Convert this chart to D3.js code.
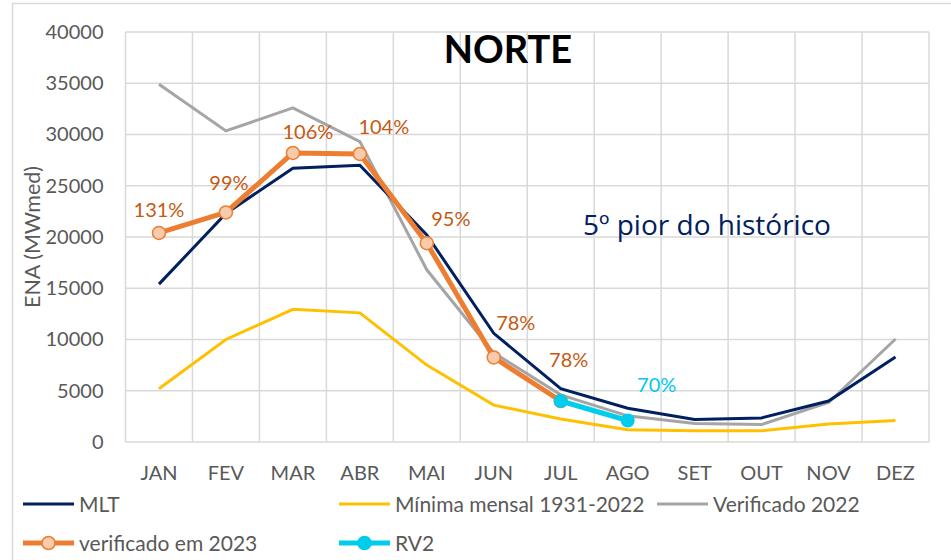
<!doctype html>
<html lang="pt">
<head>
<meta charset="utf-8">
<title>NORTE - ENA</title>
<script src="https://cdn.jsdelivr.net/npm/d3@7/dist/d3.min.js"></script>
<style>
  body { margin: 0; background: #fff; }
  svg text { font-family: Lato, "Open Sans", sans-serif; }
  svg text.nota { font-family: "Open Sans", Lato, sans-serif; }
</style>
</head>
<body>
<svg id="chart" width="951" height="560"></svg>
<script>
// dados (MWmed)
var meses = ["JAN", "FEV", "MAR", "ABR", "MAI", "JUN", "JUL", "AGO", "SET", "OUT", "NOV", "DEZ"];
var mlt = [15400, 22300, 26700, 27000, 20200, 10600, 5200, 3300, 2200, 2350, 4000, 8300];
var minima = [5200, 10000, 12950, 12600, 7500, 3600, 2250, 1200, 1100, 1100, 1750, 2100];
var verif2022 = [34900, 30350, 32600, 29300, 16800, 8700, 4600, 2550, 1800, 1700, 3850, 10050];
var verif2023 = [20400, 22400, 28200, 28100, 19400, 8250, 4000];
var rv2 = [4000, 2100];
var rv2Meses = ["JUL", "AGO"];
var pct2023 = ["131%", "99%", "106%", "104%", "95%", "78%", "78%"];
var pctRv2 = ["70%"];
var yTicks = [0, 5000, 10000, 15000, 20000, 25000, 30000, 35000, 40000];

// deslocamento dos rotulos (px) em relacao ao ponto
var labelOff = [[0, -16], [3, -22], [15, -14], [24, -20], [24, -17], [22, -27], [8, -34]];
var labelOffRv2 = [[29, -28]];

var svg = d3.select("#chart");
var margin = { left: 125.5, right: 22, top: 32, bottom: 118 };
var W = 951, H = 560;

// moldura externa
svg.append("rect").attr("x", 12.5).attr("y", 3.5).attr("width", 980).attr("height", 600)
  .attr("fill", "none").attr("stroke", "#d9d9d9").attr("stroke-width", 1.5);

var x = d3.scaleBand().domain(meses).range([margin.left, W - margin.right]).padding(0);
var y = d3.scaleLinear().domain([0, 40000]).range([H - margin.bottom, margin.top]);
var cx = function (m) { return x(m) + x.bandwidth() / 2; };

// grade
var grid = svg.append("g").attr("stroke", "#d9d9d9").attr("stroke-width", 1.5);
grid.selectAll("line.h").data(yTicks).enter().append("line")
  .attr("x1", margin.left).attr("x2", W - margin.right)
  .attr("y1", function (d) { return y(d); }).attr("y2", function (d) { return y(d); });
grid.selectAll("line.v").data(meses.concat(["end"])).enter().append("line")
  .attr("x1", function (d, i) { return margin.left + i * x.bandwidth(); })
  .attr("x2", function (d, i) { return margin.left + i * x.bandwidth(); })
  .attr("y1", y(0)).attr("y2", y(40000));

// eixo Y
var yAxis = svg.append("g").attr("transform", "translate(" + (margin.left - 22) + ",0)")
  .call(d3.axisLeft(y).tickValues(yTicks).tickFormat(d3.format("d")).tickSize(0).tickPadding(0));
yAxis.select(".domain").remove();
yAxis.selectAll("text").attr("font-size", 20).attr("fill", "#595959");

// eixo X
var xAxis = svg.append("g").attr("transform", "translate(0," + y(0) + ")")
  .call(d3.axisBottom(x).tickSize(0).tickPadding(24));
xAxis.select(".domain").remove();
xAxis.selectAll("text").attr("font-size", 20).attr("fill", "#595959");

svg.append("text").attr("transform", "translate(40," + y(20000) + ") rotate(-90)")
  .attr("text-anchor", "middle").attr("font-size", 21.5).attr("fill", "#595959")
  .text("ENA (MWmed)");

var line = d3.line()
  .x(function (d) { return cx(d.m); })
  .y(function (d) { return y(d.v); });
function pts(vals, ms) {
  return vals.map(function (v, i) { return { m: ms[i], v: v }; });
}

svg.append("path").datum(pts(minima, meses)).attr("d", line)
  .attr("fill", "none").attr("stroke", "#ffc000").attr("stroke-width", 3);
svg.append("path").datum(pts(verif2022, meses)).attr("d", line)
  .attr("fill", "none").attr("stroke", "#a5a5a5").attr("stroke-width", 3);
svg.append("path").datum(pts(mlt, meses)).attr("d", line)
  .attr("fill", "none").attr("stroke", "#002060").attr("stroke-width", 3);

var p23 = pts(verif2023, meses);
svg.append("path").datum(p23).attr("d", line)
  .attr("fill", "none").attr("stroke", "#ed7d31").attr("stroke-width", 5).attr("stroke-linejoin", "round");
svg.selectAll("circle.v23").data(p23).enter().append("circle")
  .attr("cx", function (d) { return cx(d.m); }).attr("cy", function (d) { return y(d.v); })
  .attr("r", 6.5).attr("fill", "#f8cbad").attr("stroke", "#ed7d31").attr("stroke-width", 1.5);

var pRv2 = pts(rv2, rv2Meses);
svg.append("path").datum(pRv2).attr("d", line)
  .attr("fill", "none").attr("stroke", "#00ccec").attr("stroke-width", 5);
svg.selectAll("circle.rv2").data(pRv2).enter().append("circle")
  .attr("cx", function (d) { return cx(d.m); }).attr("cy", function (d) { return y(d.v); })
  .attr("r", 7).attr("fill", "#00ccec");

// rotulos percentuais
svg.selectAll("text.p23").data(p23).enter().append("text")
  .attr("x", function (d, i) { return cx(d.m) + labelOff[i][0]; })
  .attr("y", function (d, i) { return y(d.v) + labelOff[i][1]; })
  .attr("text-anchor", "middle").attr("font-size", 20).attr("fill", "#c55a11")
  .text(function (d, i) { return pct2023[i]; });
svg.selectAll("text.prv2").data(pRv2.slice(1)).enter().append("text")
  .attr("x", function (d, i) { return cx(d.m) + labelOffRv2[i][0]; })
  .attr("y", function (d, i) { return y(d.v) + labelOffRv2[i][1]; })
  .attr("text-anchor", "middle").attr("font-size", 20).attr("fill", "#00c8f0")
  .text(function (d, i) { return pctRv2[i]; });

// titulo e nota
svg.append("text").attr("x", 508).attr("y", 63).attr("text-anchor", "middle")
  .attr("font-size", 38).attr("font-weight", "bold").attr("fill", "#000").text("NORTE");
svg.append("text").attr("class", "nota").attr("x", 583).attr("y", 235)
  .attr("font-size", 28).attr("fill", "#002060").text("5º pior do histórico");

// legenda
var legend = [
  { name: "MLT", color: "#002060", w: 3, x: 23, y: 504, marker: null },
  { name: "Mínima mensal 1931-2022", color: "#ffc000", w: 3, x: 339, y: 504, marker: null },
  { name: "Verificado 2022", color: "#a5a5a5", w: 3, x: 657, y: 504, marker: null },
  { name: "verificado em 2023", color: "#ed7d31", w: 5, x: 23, y: 543, marker: "#f8cbad" },
  { name: "RV2", color: "#00ccec", w: 5, x: 339, y: 543, marker: "#00ccec" }
];
var lg = svg.selectAll("g.lg").data(legend).enter().append("g")
  .attr("transform", function (d) { return "translate(" + d.x + "," + d.y + ")"; });
lg.append("line").attr("x1", 0).attr("x2", 51).attr("y1", 0).attr("y2", 0)
  .attr("stroke", function (d) { return d.color; }).attr("stroke-width", function (d) { return d.w; });
lg.filter(function (d) { return d.marker; }).append("circle")
  .attr("cx", 25.5).attr("cy", 0).attr("r", 6.5)
  .attr("fill", function (d) { return d.marker; })
  .attr("stroke", function (d) { return d.color; }).attr("stroke-width", 1.5);
lg.append("text").attr("x", 56).attr("y", 7.5).attr("font-size", 21).attr("fill", "#595959")
  .text(function (d) { return d.name; });
</script>
</body>
</html>
